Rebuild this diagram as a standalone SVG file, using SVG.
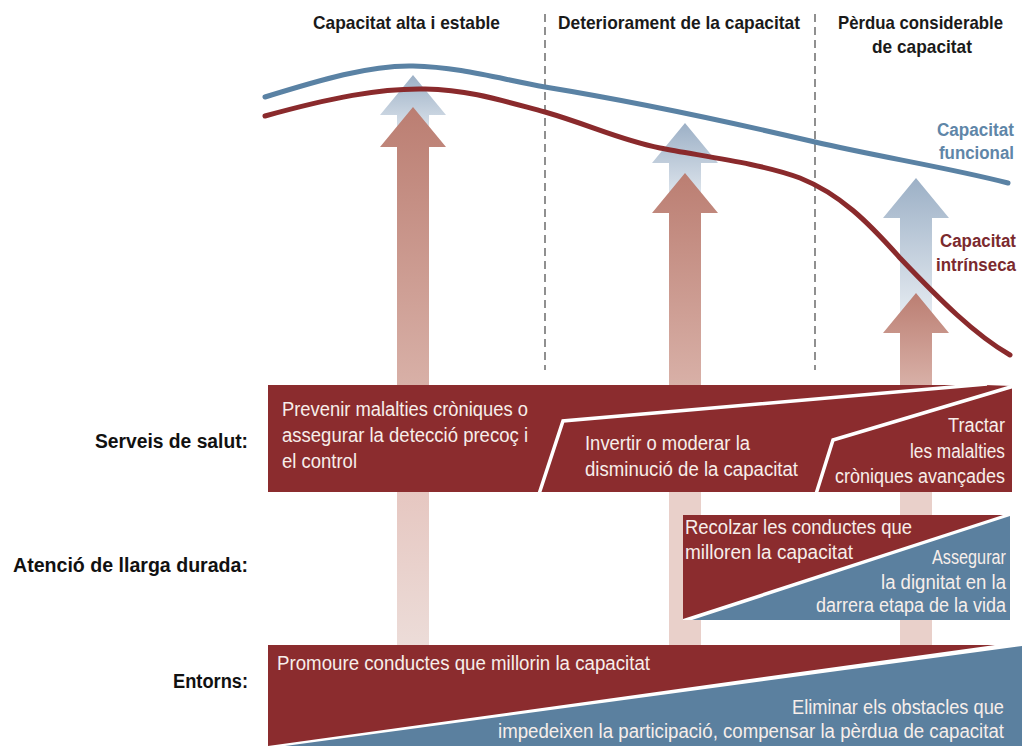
<svg xmlns="http://www.w3.org/2000/svg" width="1025" height="746" viewBox="0 0 1025 746">
<style>
.hdr{font-family:"Liberation Sans",Arial,sans-serif;font-weight:bold;font-size:19px;fill:#1a1a1a}
.lbl{font-family:"Liberation Sans",Arial,sans-serif;font-weight:bold;font-size:20px;fill:#111}
.bt{font-family:"Liberation Sans",Arial,sans-serif;font-size:20px;fill:#f7eeea}
.cf{font-family:"Liberation Sans",Arial,sans-serif;font-weight:bold;font-size:18px;fill:#5f86a8}
.ci{font-family:"Liberation Sans",Arial,sans-serif;font-weight:bold;font-size:18px;fill:#7b2a2e}
.dash{stroke:#555;stroke-width:1.3;stroke-dasharray:8 5;fill:none}
.red{fill:#8b2c2e}
.blue{fill:#5b809f}
.low{fill:#e9d0ca}
.sep{stroke:#fff;stroke-width:3.5;fill:none;stroke-linejoin:miter}
</style>
<defs>
<linearGradient id="gRed" x1="0" y1="0" x2="0" y2="1">
<stop offset="0" stop-color="#bb7e72"/>
<stop offset="1" stop-color="#d8b0a7"/>
</linearGradient>
<linearGradient id="gBlue" x1="0" y1="0" x2="0" y2="1">
<stop offset="0" stop-color="#9cb0c6"/>
<stop offset="1" stop-color="#eef2f6"/>
</linearGradient>
<linearGradient id="gLow" x1="0" y1="0" x2="0" y2="1">
<stop offset="0" stop-color="#e6c7c1"/>
<stop offset="1" stop-color="#ecdcd8"/>
</linearGradient>
</defs>
<rect width="1025" height="746" fill="#fff"/>

<g id="dividers">
<line class="dash" x1="545" y1="14" x2="545" y2="370"/>
<line class="dash" x1="815" y1="14" x2="815" y2="370"/>
</g>

<g id="headers">
<text class="hdr" x="406.5" y="29" text-anchor="middle" textLength="187" lengthAdjust="spacingAndGlyphs">Capacitat alta i estable</text>
<text class="hdr" x="679" y="29" text-anchor="middle" textLength="242" lengthAdjust="spacingAndGlyphs">Deteriorament de la capacitat</text>
<text class="hdr" x="920.5" y="29" text-anchor="middle" textLength="165" lengthAdjust="spacingAndGlyphs">Pèrdua considerable</text>
<text class="hdr" x="922" y="53" text-anchor="middle" textLength="100" lengthAdjust="spacingAndGlyphs">de capacitat</text>
</g>

<g id="lower-shafts">
<rect x="397" y="492" width="32" height="153" fill="url(#gLow)"/>
<rect class="low" x="669" y="492" width="32" height="23"/>
<rect class="low" x="669" y="515" width="14" height="105"/>
<rect class="low" x="669" y="620" width="32" height="25"/>
<rect class="low" x="900" y="492" width="32" height="23"/>
<rect class="low" x="900" y="620" width="32" height="25"/>
</g>

<g id="arrow1">
<polygon fill="url(#gBlue)" points="413,75 446,115 429,115 429,147 397,147 397,115 380,115"/>
<polygon fill="url(#gRed)" points="413,107 446,147 429,147 429,385 397,385 397,147 380,147"/>
</g>
<g id="arrow2">
<polygon fill="url(#gBlue)" points="685,123 718,163 701,163 701,213 669,213 669,163 652,163"/>
<polygon fill="url(#gRed)" points="685,173 718,213 701,213 701,385 669,385 669,213 652,213"/>
</g>
<g id="arrow3">
<polygon fill="url(#gBlue)" points="916,178 949,218 932,218 932,333 900,333 900,218 883,218"/>
<polygon fill="url(#gRed)" points="916,293 949,333 932,333 932,385 900,385 900,333 883,333"/>
</g>

<g id="curves">
<path d="M265,97 C320,80 370,65 413,66 C460,67 500,79 545,87 C600,96 700,115 815,142 C880,157 950,168 1008,183" fill="none" stroke="#5a82a4" stroke-width="5" stroke-linecap="round"/>
<path d="M265,116 C330,98 380,88 425,89 C470,90 500,100 545,112 C590,125 620,140 660,148 C700,156 760,163 800,178 C840,194 868,222 900,258 C940,300 975,335 1010,355" fill="none" stroke="#8a2a2c" stroke-width="5" stroke-linecap="round"/>
</g>

<g id="curve-labels">
<text class="cf" x="1014" y="136" text-anchor="end" textLength="77" lengthAdjust="spacingAndGlyphs">Capacitat</text>
<text class="cf" x="1014" y="159" text-anchor="end" textLength="75" lengthAdjust="spacingAndGlyphs">funcional</text>
<text class="ci" x="1016" y="247" text-anchor="end" textLength="76" lengthAdjust="spacingAndGlyphs">Capacitat</text>
<text class="ci" x="1016" y="271" text-anchor="end" textLength="80" lengthAdjust="spacingAndGlyphs">intrínseca</text>
</g>

<g id="row-labels">
<text class="lbl" x="248" y="448" text-anchor="end" textLength="153" lengthAdjust="spacingAndGlyphs">Serveis de salut:</text>
<text class="lbl" x="248" y="572" text-anchor="end" textLength="235" lengthAdjust="spacingAndGlyphs">Atenció de llarga durada:</text>
<text class="lbl" x="248" y="688" text-anchor="end" textLength="75" lengthAdjust="spacingAndGlyphs">Entorns:</text>
</g>

<g id="serveis-salut">
<polygon class="red" points="268,385 985,385 1012,386 1012,492 268,492"/>
<polyline class="sep" points="987,384 563,421 539,494"/>
<polyline class="sep" points="1014,386 833,440 816,494"/>
<text class="bt" x="282" y="416" textLength="246" lengthAdjust="spacingAndGlyphs">Prevenir malalties cròniques o</text>
<text class="bt" x="282" y="442" textLength="246" lengthAdjust="spacingAndGlyphs">assegurar la detecció precoç i</text>
<text class="bt" x="282" y="468" textLength="75" lengthAdjust="spacingAndGlyphs">el control</text>
<text class="bt" x="585" y="450" textLength="165" lengthAdjust="spacingAndGlyphs">Invertir o moderar la</text>
<text class="bt" x="585" y="476" textLength="213" lengthAdjust="spacingAndGlyphs">disminució de la capacitat</text>
<text class="bt" x="1005" y="432" text-anchor="end" textLength="57" lengthAdjust="spacingAndGlyphs">Tractar</text>
<text class="bt" x="1005" y="458" text-anchor="end" textLength="95" lengthAdjust="spacingAndGlyphs">les malalties</text>
<text class="bt" x="1005" y="483" text-anchor="end" textLength="170" lengthAdjust="spacingAndGlyphs">cròniques avançades</text>
</g>

<g id="atencio-llarga-durada">
<polygon class="red" points="683,515 1003,515 683,619"/>
<polygon class="blue" points="692,620 1010,516 1010,620"/>
<text class="bt" x="685" y="534" textLength="227" lengthAdjust="spacingAndGlyphs">Recolzar les conductes que</text>
<text class="bt" x="685" y="559" textLength="168" lengthAdjust="spacingAndGlyphs">milloren la capacitat</text>
<text class="bt" x="1006" y="564" text-anchor="end" textLength="74" lengthAdjust="spacingAndGlyphs">Assegurar</text>
<text class="bt" x="1006" y="589" text-anchor="end" textLength="125" lengthAdjust="spacingAndGlyphs">la dignitat en la</text>
<text class="bt" x="1006" y="612" text-anchor="end" textLength="190" lengthAdjust="spacingAndGlyphs">darrera etapa de la vida</text>
</g>

<g id="entorns">
<polygon class="red" points="268,645 995,645 268,746"/>
<polygon class="blue" points="285,746 1022,646 1022,746"/>
<text class="bt" x="277" y="670" textLength="373" lengthAdjust="spacingAndGlyphs">Promoure conductes que millorin la capacitat</text>
<text class="bt" x="1004" y="714" text-anchor="end" textLength="212" lengthAdjust="spacingAndGlyphs">Eliminar els obstacles que</text>
<text class="bt" x="1004" y="738" text-anchor="end" textLength="506" lengthAdjust="spacingAndGlyphs">impedeixen la participació, compensar la pèrdua de capacitat</text>
</g>
</svg>
